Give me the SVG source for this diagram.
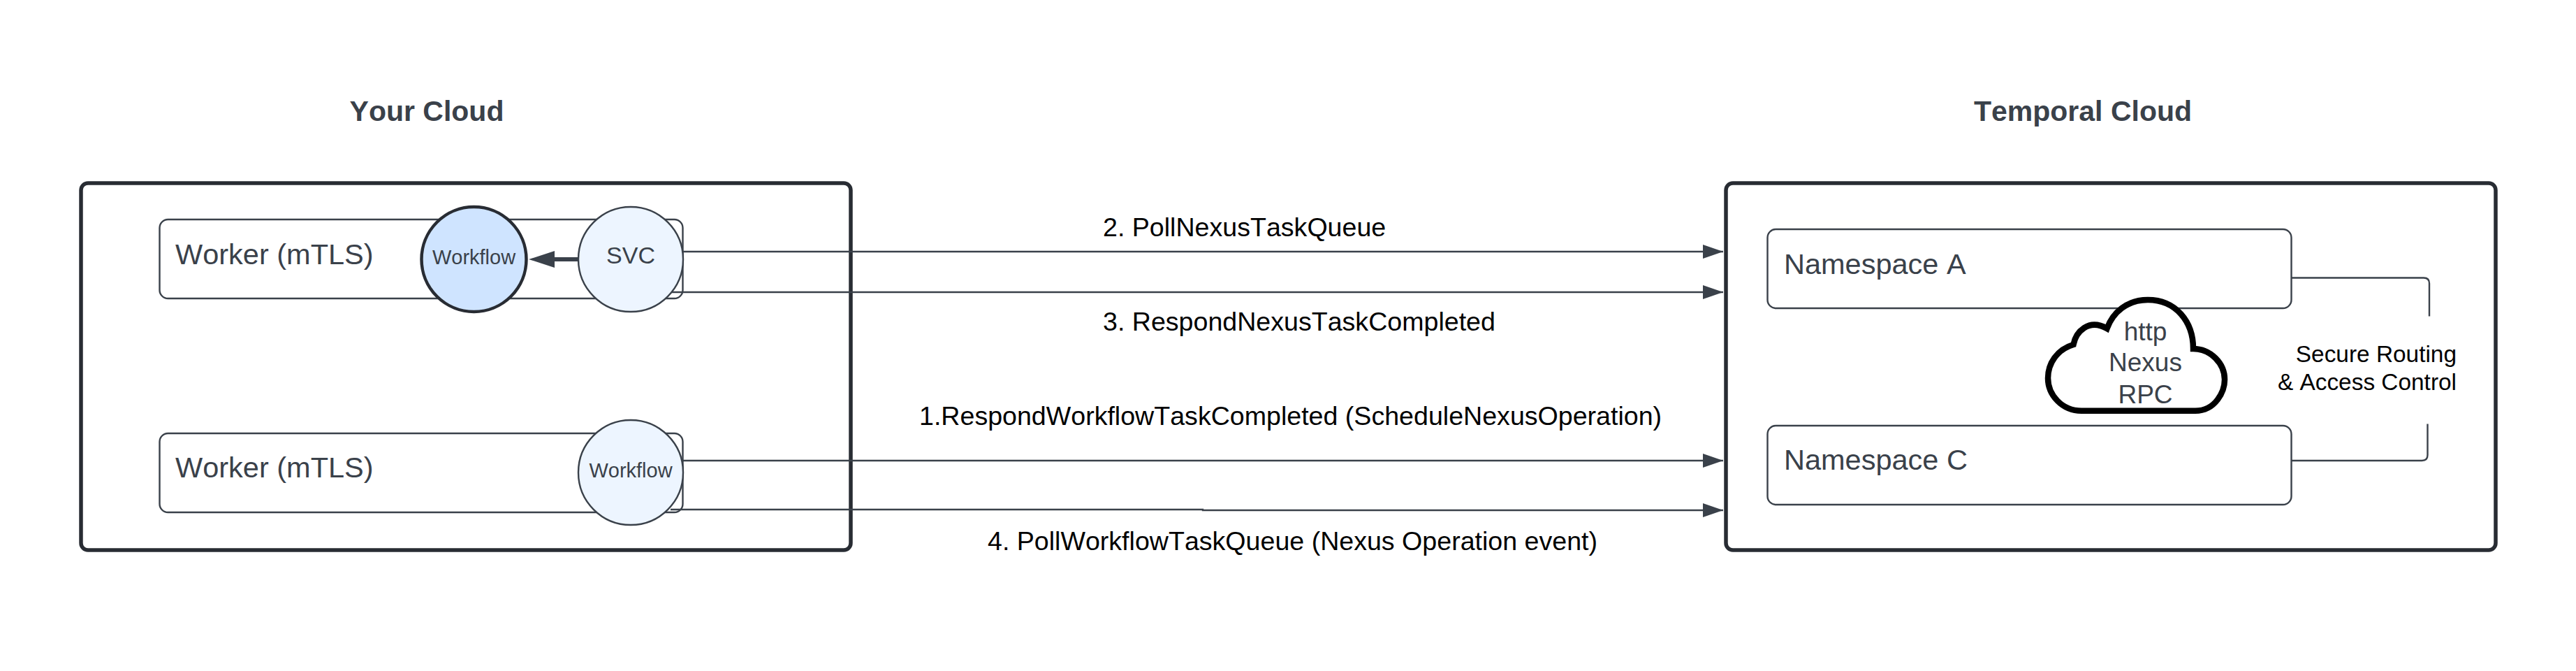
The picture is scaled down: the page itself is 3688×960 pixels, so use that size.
<svg xmlns="http://www.w3.org/2000/svg" width="3688" height="960" viewBox="0 0 3688 960">
<defs>
<style>
text{font-family:"Liberation Sans",Arial,sans-serif;font-kerning:none}
.t{font-size:41px;font-weight:700;fill:#3a414a;text-anchor:middle}
.big{font-size:41.500px;fill:#3a414a}
.sm{font-size:29px;fill:#3a414a;text-anchor:middle}
.cl{font-size:37px;fill:#3a414a;text-anchor:middle}
.lbl{font-size:37.600px;fill:#000}
.sec{font-size:33.400px;fill:#000;text-anchor:end}
.box{fill:#fff;stroke:#282c33;stroke-width:5.500}
.rr{fill:#fff;stroke:#3a414a;stroke-width:2.400}
.c{fill:none;stroke:#3a414a;stroke-width:2.400}
</style>
<marker id="a" markerUnits="userSpaceOnUse" markerWidth="30" markerHeight="20" refX="29" refY="10" orient="auto"><path d="M0 0L29 10L0 20Z" fill="#3a414a"/></marker>
</defs>
<rect width="3688" height="960" fill="#fff"/>
<text class="t" x="611" y="172.500">Your Cloud</text>
<text class="t" x="2982" y="172.500">Temporal Cloud</text>
<g id="your-cloud"><rect class="box" x="116" y="262" width="1102" height="525" rx="10"/></g>
<g id="temporal-cloud"><rect class="box" x="2471" y="262" width="1102" height="525" rx="10"/></g>
<g id="worker-1"><rect class="rr" x="228.500" y="314" width="749" height="113" rx="12"/><text class="big" x="251" y="378">Worker (mTLS)</text></g>
<g id="worker-2"><rect class="rr" x="228.500" y="620" width="749" height="113" rx="12"/><text class="big" x="251" y="683">Worker (mTLS)</text></g>
<g id="namespace-a"><rect class="rr" x="2530.500" y="328" width="750" height="113" rx="12"/><text class="big" x="2554" y="392">Namespace A</text></g>
<g id="namespace-c"><rect class="rr" x="2530.500" y="609" width="750" height="113" rx="12"/><text class="big" x="2554" y="672">Namespace C</text></g>
<g id="connectors">
<path class="c" d="M978 360H2467" marker-end="url(#a)"/>
<path class="c" d="M960 418H2467" marker-end="url(#a)"/>
<path class="c" d="M978 659H2467" marker-end="url(#a)"/>
<path class="c" d="M960 729H1722V730H2467" marker-end="url(#a)"/>
<path class="c" d="M3281 397.500H3470Q3478 397.500 3478 405.500V452.500"/>
<path class="c" d="M3281 659H3467.500Q3475.500 659 3475.500 651V606.500"/>
<path fill="none" stroke="#3a414a" stroke-width="6" d="M829 371H780"/>
<path fill="#3a414a" d="M757 371L794 359V383Z"/>
</g>
<g id="workflow-active"><circle cx="678.500" cy="371" r="75" fill="#cfe4ff" stroke="#282c33" stroke-width="4.500"/><text class="sm" x="678.500" y="378">Workflow</text></g>
<g id="svc"><circle cx="903" cy="371" r="75" fill="#edf5ff" stroke="#3a414a" stroke-width="2.400"/><text class="sm" style="font-size:34px" x="903" y="377">SVC</text></g>
<g id="workflow-2"><circle cx="903" cy="676" r="75" fill="#edf5ff" stroke="#3a414a" stroke-width="2.400"/><text class="sm" x="903" y="683">Workflow</text></g>
<g id="cloud">
<path fill="#fff" stroke="#000" stroke-width="8.500" stroke-linejoin="miter" d="M2980 587.700H3143C3172 587.700 3185 560 3185 543C3185 520 3165 499 3140 499C3140 460 3115 429 3075 429C3045 429 3025 447 3016.500 470C2990 455 2972 475 2968.500 493C2945 500 2932 520 2932 541C2932 565 2952 587.700 2980 587.700Z"/>
<text class="cl" x="3071.500" y="487">http</text>
<text class="cl" x="3071.500" y="531">Nexus</text>
<text class="cl" x="3071.500" y="577">RPC</text>
</g>
<g id="labels">
<text class="lbl" x="1579" y="338">2. PollNexusTaskQueue</text>
<text class="lbl" x="1579" y="473">3. RespondNexusTaskCompleted</text>
<text class="lbl" x="1316" y="608">1.RespondWorkflowTaskCompleted (ScheduleNexusOperation)</text>
<text class="lbl" x="1414" y="787">4. PollWorkflowTaskQueue (Nexus Operation event)</text>
<text class="sec" x="3517" y="518">Secure Routing</text>
<text class="sec" x="3517" y="558">&amp; Access Control</text>
</g>
</svg>
